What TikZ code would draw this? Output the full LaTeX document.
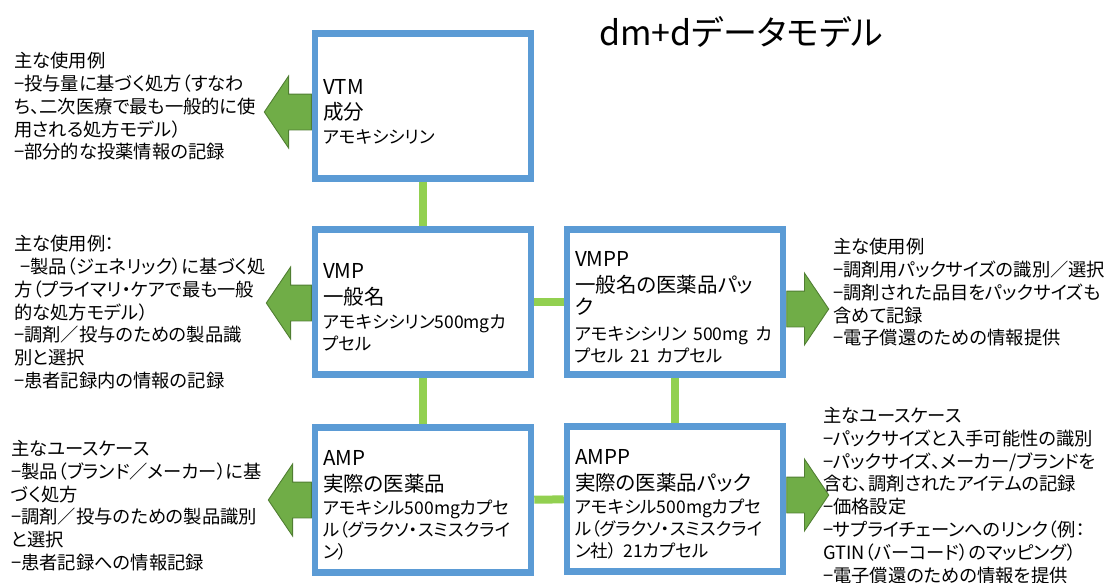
\documentclass[tikz,border=0pt]{standalone}
\usepackage{fontspec}
\setmainfont{Noto Sans CJK JP}[RawFeature=+palt]
\usetikzlibrary{shapes.arrows}
\definecolor{boxblue}{HTML}{5B9BD5}
\definecolor{linkgreen}{HTML}{92D050}
\definecolor{arrowgreen}{HTML}{70AD47}
\definecolor{arrowedge}{HTML}{507E32}
\newcommand{\namefont}{\fontsize{20.5}{22}\selectfont}
\newcommand{\drugfont}{\fontsize{17.5}{22}\selectfont}
\newcommand{\sidefont}{\fontsize{18.3}{22.8}\selectfont}
\newcommand{\titlefont}{\fontsize{34}{38}\selectfont}
\begin{document}
\begin{tikzpicture}[x=1pt,y=-1pt,
	mbox/.style={draw=boxblue,line width=6.5pt,fill=white,minimum width=216pt,minimum height=145pt,text width=200pt,inner xsep=8pt,inner ysep=0pt,align=left,font=\namefont,execute at begin node={\rule{0pt}{26pt}}},
	link/.style={draw=linkgreen,line width=8pt},
	usearrow/.style={single arrow,draw=arrowedge,fill=arrowgreen,line width=0.9pt,inner xsep=0pt,inner ysep=17.5pt,single arrow head extend=18pt,single arrow tip angle=112},
	usetext/.style={align=left,inner sep=0pt,anchor=north west,font=\sidefont}]
	\useasboundingbox (0,0) rectangle (1115,582);
	\node (title) at (741,32) {\titlefont dm+dデータモデル};
	% boxes
	\node[mbox] (vtm) at (423,106) {VTM\\[3pt]成分\\[2pt]\drugfont アモキシシリン};
	\node[mbox] (vmp) at (423,302) {VMP\\[4pt]一般名\\[2pt]\drugfont アモキシシリン500mgカ\\プセル};
	\node[mbox] (vmpp) at (675,302) {VMPP\\[4pt]一般名の医薬品パッ\\ク\\[4pt]\drugfont アモキシシリン 500mg カ\\プセル 21 カプセル};
	\node[mbox] (amp) at (423,500) {AMP\\[4pt]実際の医薬品\\[1pt]\drugfont アモキシル500mgカプセ\\ル（グラクソ・スミスクライ\\ン）};
	\node[mbox] (ampp) at (675,499) {AMPP\\[4pt]実際の医薬品パック\\[1pt]\drugfont アモキシル500mgカプセ\\ル（グラクソ・スミスクライ\\ン社） 21カプセル};
	\draw[link] (vtm)--(vmp);
	\draw[link] (vmp)--(vmpp);
	\draw[link] (vmp)--(amp);
	\draw[link] (vmpp)--(ampp);
	\draw[link] (amp)--(ampp);
	% use arrows
	\node[usearrow,shape border rotate=180,anchor=tail,minimum height=47pt] (vtmarrow) at ([yshift=-6pt]vtm.west) {};
	\node[usearrow,shape border rotate=180,anchor=tail,minimum height=45pt] (vmparrow) at ([yshift=-1pt]vmp.west) {};
	\node[usearrow,shape border rotate=180,anchor=tail,minimum height=43pt] (amparrow) at (amp.west) {};
	\node[usearrow,anchor=tail,minimum height=42pt] (vmpparrow) at ([yshift=-7pt]vmpp.east) {};
	\node[usearrow,anchor=tail,minimum height=42pt] (ampparrow) at ([yshift=4pt]ampp.east) {};
	% use texts
	\node[usetext] (vtmuse) at (14,52) {主な使用例\\−投与量に基づく処方（すなわ\\ち、二次医療で最も一般的に使\\用される処方モデル）\\−部分的な投薬情報の記録};
	\node[usetext] (vmpuse) at (14,235) {主な使用例：\\\hspace{6pt}−製品（ジェネリック）に基づく処\\方（プライマリ・ケアで最も一般\\的な処方モデル）\\−調剤／投与のための製品識\\別と選択\\−患者記録内の情報の記録};
	\node[usetext] (ampuse) at (11,440) {主なユースケース\\−製品（ブランド／メーカー）に基\\づく処方\\−調剤／投与のための製品識別\\と選択\\−患者記録への情報記録};
	\node[usetext] (vmppuse) at (833,238) {主な使用例\\−調剤用パックサイズの識別／選択\\−調剤された品目をパックサイズも\\含めて記録\\−電子償還のための情報提供};
	\node[usetext] (amppuse) at (823,407) {主なユースケース\\−パックサイズと入手可能性の識別\\−パックサイズ、メーカー/ブランドを\\含む、調剤されたアイテムの記録\\−価格設定\\−サプライチェーンへのリンク（例：\\GTIN（バーコード）のマッピング）\\−電子償還のための情報を提供};
\end{tikzpicture}
\end{document}
